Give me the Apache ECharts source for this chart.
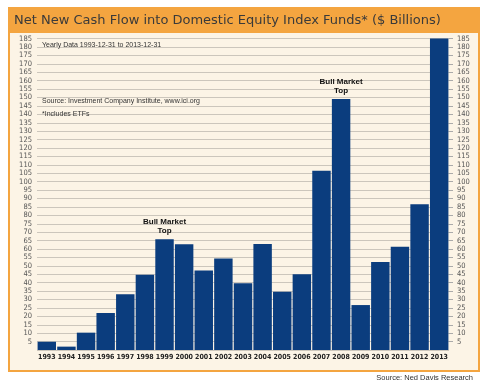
<!DOCTYPE html>
<html><head><meta charset="utf-8">
<script src="https://cdn.jsdelivr.net/npm/echarts@6/dist/echarts.min.js"></script>
<style>html,body{margin:0;padding:0;background:#fff}#c{width:484px;height:388px}</style>
</head><body><div id="c"></div>
<script>
const years = ['1993','1994','1995','1996','1997','1998','1999','2000','2001','2002','2003','2004','2005','2006','2007','2008','2009','2010','2011','2012','2013'];
const flows = [4.9, 2.0, 10.3, 22.0, 33.1, 44.7, 65.8, 62.8, 47.3, 54.3, 39.6, 63.0, 34.6, 45.0, 106.5, 149.1, 26.7, 52.3, 61.4, 86.6, 185.0];
const annotatedYears = ['1999','2008'];
const annotationText = 'Bull Market\nTop';
const titleText = 'Net New Cash Flow into Domestic Equity Index Funds* ($ Billions)';
const noteLines = ['Yearly Data 1993-12-31 to 2013-12-31', 'Source: Investment Company Institute, www.ici.org', '*Includes ETFs'];
const sourceText = 'Source: Ned Davis Research';
const yMin = 0, yMax = 185, yStep = 5;

const chart = echarts.init(document.getElementById('c'), null, {renderer:'canvas'});
const cream = '#fcf4e6', orange = '#f4a540', navy = '#0b3d7e';
const condensed = '"DejaVu Sans Condensed", "Liberation Sans", sans-serif';
const barData = flows.map((v,i) => annotatedYears.includes(years[i]) ? {
  value: v,
  label: {show:true, position:'top', distance:4, formatter: annotationText,
    fontFamily:'Liberation Sans', fontWeight:'bold', fontSize:8, lineHeight:9, color:'#111'}
} : v);

const option = {
  backgroundColor:'#ffffff',
  animation:false,
  graphic:[
    {type:'rect', z:-10, shape:{x:9,y:8,width:470,height:363}, style:{fill:cream, stroke:orange, lineWidth:2}},
    {type:'rect', z:-9, shape:{x:9,y:8,width:470,height:25}, style:{fill:orange}},
    {type:'text', z:-8, x:14, y:21, style:{text:titleText, fill:'#3a3a3a', font:'13px "DejaVu Sans"', verticalAlign:'middle'}},
    {type:'text', z:5, x:42, y:45, style:{text:noteLines[0], fill:'#333', font:'7px "Liberation Sans"', verticalAlign:'middle'}},
    {type:'text', z:5, x:42, y:101, style:{text:noteLines[1], fill:'#333', font:'7px "Liberation Sans"', verticalAlign:'middle'}},
    {type:'text', z:5, x:42, y:114, style:{text:noteLines[2], fill:'#333', font:'7px "Liberation Sans"', verticalAlign:'middle'}},
    {type:'text', z:5, x:473, y:378, style:{text:sourceText, fill:'#333', font:'7.5px "Liberation Sans"', align:'right', verticalAlign:'middle'}}
  ],
  grid:{left:37, right:35, top:38.6, bottom:38},
  xAxis:{type:'category', data:years,
    axisLine:{show:false}, axisTick:{show:false},
    axisLabel:{fontFamily:condensed, fontWeight:'bold', fontSize:7, color:'#222', margin:4, interval:0}},
  yAxis:[
    {type:'value', position:'left', min:yMin, max:yMax, interval:yStep,
      axisLine:{show:false}, axisTick:{show:false},
      splitLine:{show:true, lineStyle:{color:'#ccc6bc', width:1}},
      axisLabel:{showMinLabel:false, fontFamily:condensed, fontSize:7.5, color:'#555', margin:5}},
    {type:'value', position:'right', min:yMin, max:yMax, interval:yStep,
      axisLine:{show:false}, axisTick:{show:true, length:4, lineStyle:{color:'#aaa'}},
      splitLine:{show:false},
      axisLabel:{showMinLabel:false, fontFamily:condensed, fontSize:7.5, color:'#555', margin:8}}
  ],
  series:[{type:'bar', data:barData, barCategoryGap:'6%', itemStyle:{color:navy}}]
};
chart.setOption(option);
</script></body></html>
